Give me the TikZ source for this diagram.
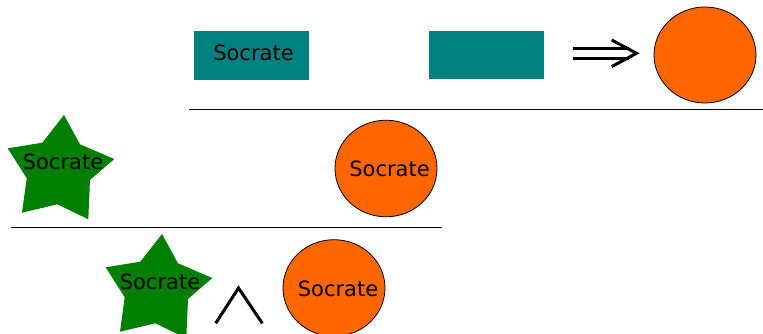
\documentclass[tikz,border=0pt]{standalone}
\usepackage{fontspec}
\setmainfont{DejaVu Sans}
\definecolor{tealbox}{HTML}{008080}
\definecolor{orangedisc}{HTML}{FF6600}
\definecolor{stargreen}{HTML}{007F00}
\begin{document}
\begin{tikzpicture}[x=1pt,y=-1pt,
  label/.style={font=\fontsize{21}{25}\selectfont, text=black, inner sep=0pt},
  tealrect/.style={fill=tealbox, draw=none},
  disc/.style={fill=orangedisc, draw=black, line width=0.8pt},
  starfill/.style={fill=stargreen, draw=none},
  rule/.style={draw=black, line width=1.4pt},
  symbol/.style={draw=black, line width=3pt, line cap=butt, line join=miter}]
  \useasboundingbox (0,0) rectangle (763,334);

  % first row: two boxes imply a disc
  \fill[tealrect] (194,31) rectangle (309,80);
  \node[label] (box1) at (253.5,53) {Socrate};
  \fill[tealrect] (429,31) rectangle (544,79);
  \coordinate (box2) at (486.5,55);
  \draw[symbol] (573,48.3) -- (629,48.3);
  \draw[symbol] (573,58.3) -- (629,58.3);
  \draw[symbol] (611.7,40) -- (636.5,53.3) -- (611.7,66.6);
  \draw[disc] (705,55) ellipse [x radius=51, y radius=48];
  \coordinate (disc1) at (705,55);

  \draw[rule] (189,109.3) -- (763,109.3);

  % second row: star and disc
  \fill[starfill] (64,115) -- (80,144.3) -- (114.3,159) -- (90,180) -- (88.3,219.3)
     -- (57.3,204.3) -- (22,212.7) -- (26.7,178.3) -- (7.7,148.3) -- (42.3,142.7) -- cycle;
  \node[label] (star1) at (63,161.5) {Socrate};
  \draw[disc] (386,168.5) ellipse [x radius=51, y radius=48.3];
  \node[label] (disc2) at (389.5,169) {Socrate};

  \draw[rule] (10.7,227.3) -- (441.7,227.3);

  % third row: star and disc joined by a wedge
  \begin{scope}[shift={(98,119)}]
    \fill[starfill] (64,115) -- (80,144.3) -- (114.3,159) -- (90,180) -- (88.3,219.3)
       -- (57.3,204.3) -- (22,212.7) -- (26.7,178.3) -- (7.7,148.3) -- (42.3,142.7) -- cycle;
  \end{scope}
  \node[label] (star2) at (160,281.5) {Socrate};
  \draw[symbol] (215.7,323.3) -- (238.5,288) -- (262.3,323.3);
  \draw[disc] (334,288) ellipse [x radius=51, y radius=48.3];
  \node[label] (disc3) at (338,289) {Socrate};
\end{tikzpicture}
\end{document}
